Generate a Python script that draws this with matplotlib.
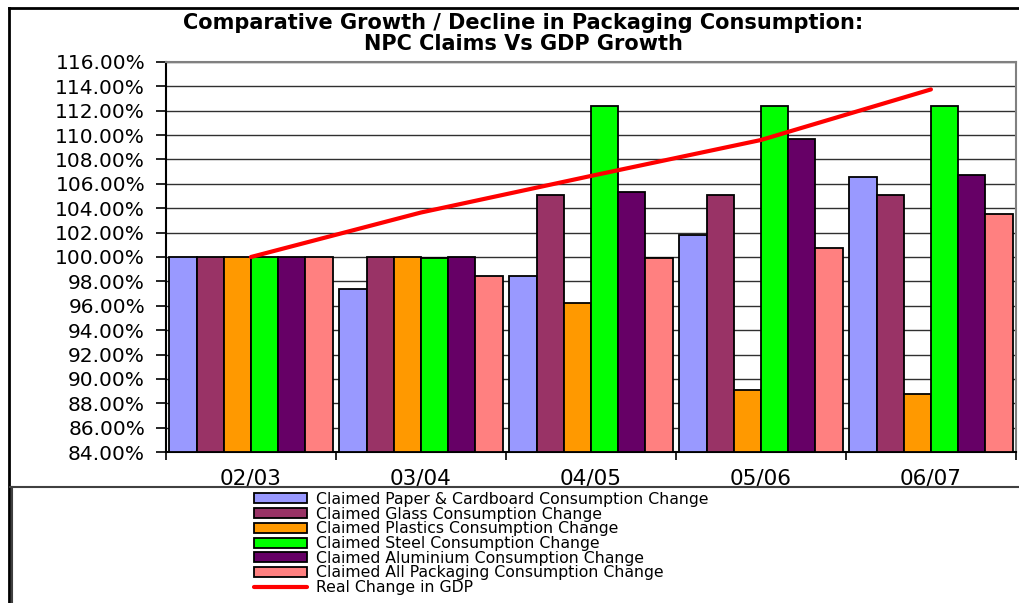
"""
Comparative growth / decline in packaging consumption:
NPC claims vs GDP growth, 02/03 = 100%.
"""

import numpy as np
import matplotlib
matplotlib.use("Agg")
import matplotlib.pyplot as plt
from matplotlib.lines import Line2D
from matplotlib.ticker import FuncFormatter, FixedLocator

years = ["02/03", "03/04", "04/05", "05/06", "06/07"]

paper = [100.0, 97.4, 98.45, 101.8, 106.55]
glass = [100.0, 100.0, 105.05, 105.05, 105.05]
plastics = [100.0, 100.0, 96.2, 89.05, 88.75]
steel = [100.0, 99.9, 112.4, 112.4, 112.4]
aluminium = [100.0, 100.0, 105.3, 109.7, 106.7]
all_packaging = [100.0, 98.45, 99.9, 100.75, 103.55]
gdp = [100.0, 103.65, 106.65, 109.6, 113.75]

series = [
    ("Claimed Paper & Cardboard Consumption Change", paper, "#9999FF"),
    ("Claimed Glass Consumption Change", glass, "#993366"),
    ("Claimed Plastics Consumption Change", plastics, "#FF9900"),
    ("Claimed Steel Consumption Change", steel, "#00FF00"),
    ("Claimed Aluminium Consumption Change", aluminium, "#660066"),
    ("Claimed All Packaging Consumption Change", all_packaging, "#FF8080"),
]

plt.rcParams["font.family"] = ["DejaVu Sans"]

fig = plt.figure(figsize=(10.2, 6.03), dpi=100)
ax = fig.add_axes([0.1627, 0.2504, 0.8333, 0.6468])

x = np.arange(len(years))
width = 0.16
handles = []
for k, (label, vals, color) in enumerate(series):
    base = 84.0
    bars = ax.bar(x + (k - 2.5) * width, np.array(vals) - base, width, bottom=base,
                  color=color, edgecolor="black", linewidth=1.3, label=label, zorder=3)
    handles.append(bars)

line, = ax.plot(x, gdp, color="#FF0000", linewidth=3, label="Real Change in GDP",
                zorder=4, solid_capstyle="round")
handles.append(line)

ax.set_xlim(-0.5, len(years) - 0.5)
ax.set_ylim(84, 116)
ax.set_yticks(np.arange(84, 117, 2))
ax.yaxis.set_major_formatter(FuncFormatter(lambda v, _: f"{v:.2f}%"))
ax.grid(axis="y", color="#303030", linewidth=1, zorder=0)

ax.set_xticks(x)
ax.set_xticklabels(years)
ax.xaxis.set_minor_locator(FixedLocator(np.arange(-0.5, len(years), 1)))
ax.tick_params(axis="x", which="major", length=0, pad=12, labelsize=15.5)
ax.tick_params(axis="x", which="minor", length=6, width=1.2)
ax.tick_params(axis="y", length=7, width=1.2, pad=8, labelsize=14.5)

ax.spines["left"].set_linewidth(1.5)
ax.spines["bottom"].set_linewidth(1.5)
for side in ("top", "right"):
    ax.spines[side].set_color("#808080")
    ax.spines[side].set_linewidth(1.5)

fig.text(0.513, 0.978, "Comparative Growth / Decline in Packaging Consumption:\n"
         "NPC Claims Vs GDP Growth", ha="center", va="top",
         fontsize=15, fontweight="bold", linespacing=1.05)

# chart frame and legend box
W, H = 1020, 603
def px_line(x0, y0, x1, y1, **kw):
    fig.add_artist(Line2D([x0 / W, x1 / W], [1 - y0 / H, 1 - y1 / H],
                          transform=fig.transFigure, **kw))

px_line(9, 8, 1020, 8, color="black", linewidth=2)
px_line(9, 8, 9, 603, color="black", linewidth=2)
px_line(10, 487, 1020, 487, color="#404040", linewidth=1.5)
px_line(12, 487, 12, 603, color="#404040", linewidth=1.5)

labels = [h.get_label() for h in handles]
fig.legend(handles, labels, loc="upper left",
           bbox_to_anchor=(254 / W, 1 - 492 / H),
           frameon=False, fontsize=11.3, handlelength=3.4,
           handleheight=0.6, handletextpad=0.55,
           labelspacing=-0.02, borderpad=0, borderaxespad=0)

fig.savefig("out.png", dpi=100)
